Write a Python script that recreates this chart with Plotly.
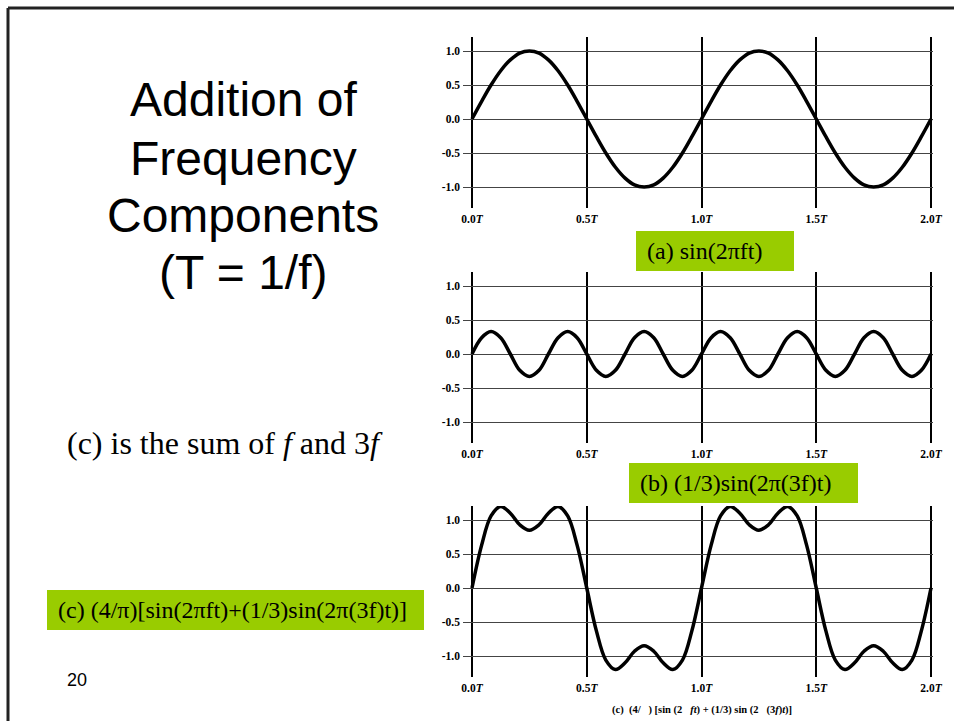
import plotly.graph_objects as go

W, H = 954, 721

# ---------------- data ----------------
t_T = [0.0, 0.042, 0.083, 0.125, 0.167, 0.208, 0.25, 0.292, 0.333, 0.375, 0.417, 0.458,
       0.5, 0.542, 0.583, 0.625, 0.667, 0.708, 0.75, 0.792, 0.833, 0.875, 0.917, 0.958,
       1.0, 1.042, 1.083, 1.125, 1.167, 1.208, 1.25, 1.292, 1.333, 1.375, 1.417, 1.458,
       1.5, 1.542, 1.583, 1.625, 1.667, 1.708, 1.75, 1.792, 1.833, 1.875, 1.917, 1.958, 2.0]

wave_a = [0, 0.26, 0.5, 0.71, 0.87, 0.97, 1.0, 0.97, 0.87, 0.71, 0.5, 0.26,
          0, -0.26, -0.5, -0.71, -0.87, -0.97, -1.0, -0.97, -0.87, -0.71, -0.5, -0.26,
          0, 0.26, 0.5, 0.71, 0.87, 0.97, 1.0, 0.97, 0.87, 0.71, 0.5, 0.26,
          0, -0.26, -0.5, -0.71, -0.87, -0.97, -1.0, -0.97, -0.87, -0.71, -0.5, -0.26, 0]

wave_b = [0, 0.24, 0.33, 0.24, 0, -0.24, -0.33, -0.24,
          0, 0.24, 0.33, 0.24, 0, -0.24, -0.33, -0.24,
          0, 0.24, 0.33, 0.24, 0, -0.24, -0.33, -0.24,
          0, 0.24, 0.33, 0.24, 0, -0.24, -0.33, -0.24,
          0, 0.24, 0.33, 0.24, 0, -0.24, -0.33, -0.24,
          0, 0.24, 0.33, 0.24, 0, -0.24, -0.33, -0.24, 0]

wave_c = [0, 0.63, 1.06, 1.2, 1.1, 0.93, 0.85, 0.93, 1.1, 1.2, 1.06, 0.63,
          0, -0.63, -1.06, -1.2, -1.1, -0.93, -0.85, -0.93, -1.1, -1.2, -1.06, -0.63,
          0, 0.63, 1.06, 1.2, 1.1, 0.93, 0.85, 0.93, 1.1, 1.2, 1.06, 0.63,
          0, -0.63, -1.06, -1.2, -1.1, -0.93, -0.85, -0.93, -1.1, -1.2, -1.06, -0.63, 0]

x_tickvals = [0, 0.5, 1.0, 1.5, 2.0]
x_ticktext = ["0.0<i>T</i>", "0.5<i>T</i>", "1.0<i>T</i>", "1.5<i>T</i>", "2.0<i>T</i>"]
y_tickvals = [-1.0, -0.5, 0.0, 0.5, 1.0]
y_ticktext = ["-1.0", "-0.5", "0.0", "0.5", "1.0"]

# ---------------- layout helpers ----------------
def px_x(x):
    return x / W

def px_y(y):
    return 1 - y / H

PX_PER_T = 229.5
X_LEFT, X_RIGHT = 463, 933
X0_PX = 472
x_range = [-(X0_PX - X_LEFT) / PX_PER_T, (X_RIGHT - X0_PX) / PX_PER_T]

PX_PER_UNIT = 68.0
panels = [  # (top px, zero px, bottom px)
    (37, 119, 208),
    (272, 354, 443),
    (506, 588, 677),
]

fig = go.Figure()
series = [wave_a, wave_b, wave_c]
xtick_font = dict(family="Liberation Serif", size=11.5, color="black", weight="bold")
ytick_font = dict(family="Liberation Serif", size=11.5, color="black", weight="bold")

for i, (top, zero, bot) in enumerate(panels):
    n = "" if i == 0 else str(i + 1)
    fig.add_trace(go.Scatter(
        x=t_T, y=series[i], mode="lines",
        line=dict(color="black", width=3.5, shape="spline", smoothing=1.0),
        xaxis="x" + n, yaxis="y" + n, showlegend=False, hoverinfo="skip"))
    y_range = [-(bot - zero) / PX_PER_UNIT, (zero - top) / PX_PER_UNIT]
    fig.layout["xaxis" + n] = dict(
        domain=[px_x(X_LEFT), px_x(X_RIGHT)], range=x_range, anchor="y" + n,
        tickvals=x_tickvals, ticktext=x_ticktext, tickfont=xtick_font, automargin=False,
        showgrid=True, gridcolor="black", gridwidth=2.2,
        zeroline=False, showline=False, ticks="", ticklabelstandoff=2, fixedrange=True)
    fig.layout["yaxis" + n] = dict(
        domain=[px_y(bot), px_y(top)], range=y_range, anchor="x" + n,
        tickvals=y_tickvals, ticktext=y_ticktext, tickfont=ytick_font, automargin=False,
        showgrid=True, gridcolor="#444444", gridwidth=1.3,
        zeroline=False, showline=False, ticks="", ticklabelstandoff=2, fixedrange=True)

shapes = [
    dict(type="line", xref="paper", yref="paper", x0=px_x(8), x1=1.0,
         y0=px_y(8), y1=px_y(8), line=dict(color="#222222", width=3)),
    dict(type="line", xref="paper", yref="paper", x0=px_x(8), x1=px_x(8),
         y0=px_y(8), y1=0.0, line=dict(color="#222222", width=3)),
]
GREEN = "#99CC00"
boxes = [  # (x0, y0, x1, y1, text, text_left)
    (636, 231, 794, 271, "(a) sin(2πft)", 645),
    (629, 463, 858, 503, "(b) (1/3)sin(2π(3f)t)", 638),
    (47, 590, 424, 630, "(c) (4/π)[sin(2πft)+(1/3)sin(2π(3f)t)]", 56),
]
annotations = []
for (x0, y0, x1, y1, txt, tl) in boxes:
    shapes.append(dict(type="rect", xref="paper", yref="paper",
                       x0=px_x(x0), x1=px_x(x1), y0=px_y(y1), y1=px_y(y0),
                       fillcolor=GREEN, line=dict(width=0), layer="below"))
    annotations.append(dict(text=txt, x=px_x(tl), y=px_y((y0 + y1) / 2),
                            xref="paper", yref="paper", xanchor="left", yanchor="middle",
                            showarrow=False,
                            font=dict(family="Liberation Serif", size=24, color="black")))

title_lines = ["Addition of", "Frequency", "Components", "(T = 1/f)"]
title_y = [100, 158, 216, 272]
for txt, yy in zip(title_lines, title_y):
    annotations.append(dict(text=txt, x=px_x(243), y=px_y(yy), xref="paper", yref="paper",
                            xanchor="center", yanchor="middle", showarrow=False,
                            font=dict(family="Liberation Sans", size=48, color="black")))

annotations.append(dict(text="(c) is the sum of <i>f</i> and 3<i>f</i>",
                        x=px_x(65), y=px_y(443), xref="paper", yref="paper",
                        xanchor="left", yanchor="middle", showarrow=False,
                        font=dict(family="Liberation Serif", size=32, color="black")))
annotations.append(dict(text="20", x=px_x(65), y=px_y(680), xref="paper", yref="paper",
                        xanchor="left", yanchor="middle", showarrow=False,
                        font=dict(family="Liberation Sans", size=18, color="black")))
annotations.append(dict(
    text="(c)  (4/   ) [sin (2   <i>ft</i>) + (1/3) sin (2   (3<i>f</i>)<i>t</i>)]",
    x=px_x(702), y=px_y(710), xref="paper", yref="paper",
    xanchor="center", yanchor="middle", showarrow=False,
    font=dict(family="Liberation Serif", size=10.5, color="black", weight="bold")))

fig.update_layout(width=W, height=H,
                  margin=dict(l=0, r=0, t=0, b=0, pad=0, autoexpand=False),
                  paper_bgcolor="white", plot_bgcolor="white",
                  shapes=shapes, annotations=annotations, showlegend=False)

fig.write_html("out.html")
